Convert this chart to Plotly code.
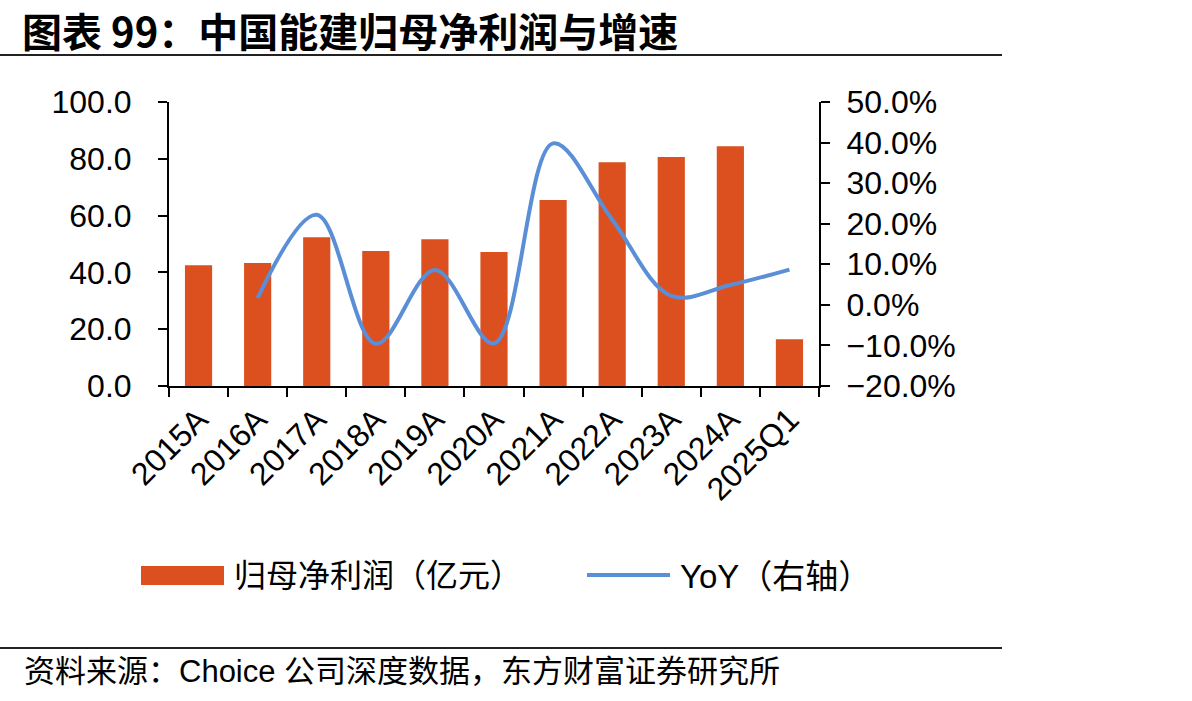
import plotly.graph_objects as go

categories = ['2015A', '2016A', '2017A', '2018A', '2019A', '2020A',
              '2021A', '2022A', '2023A', '2024A', '2025Q1']
net_profit = [42.5, 43.3, 52.4, 47.5, 51.7, 47.2, 65.5, 78.8, 80.6, 84.4, 16.5]
yoy = [None, 0.017, 0.222, -0.096, 0.086, -0.095, 0.398, 0.21, 0.022, 0.049, 0.087]

left_ticks = [0, 20, 40, 60, 80, 100]
right_ticks = [-0.2, -0.1, 0.0, 0.1, 0.2, 0.3, 0.4, 0.5]

W, H = 1192, 701
L, R, T, B = 169, 819, 102, 386  # plot area in px

def px(x):
    return (x - L) / (R - L)

def py(y):
    return (B - y) / (B - T)

BAR = '#DC5020'
LINE = '#5A8FD8'
LAT = 'Liberation Sans, Arial, Noto Sans CJK SC'

fig = go.Figure()
fig.add_trace(go.Bar(x=categories, y=net_profit, name='归母净利润（亿元）',
                     marker=dict(color=BAR, line=dict(width=0)), width=0.46,
                     yaxis='y'))
fig.add_trace(go.Scatter(x=categories, y=yoy, name='YoY（右轴）', mode='lines',
                         line=dict(color=LINE, width=4, shape='spline', smoothing=1.0),
                         yaxis='y2', connectgaps=False))

fig.update_layout(
    width=W, height=H,
    margin=dict(l=L, r=W - R, t=T, b=H - B),
    paper_bgcolor='white', plot_bgcolor='white',
    showlegend=False,
    font=dict(family=LAT, color='black'),
    xaxis=dict(type='category', showline=True, linecolor='black', linewidth=2,
               ticks='outside', tickson='boundaries', ticklen=9, tickwidth=1.5,
               tickcolor='black', tickangle=-45, tickfont=dict(size=32, family=LAT),
               showgrid=False, zeroline=False),
    yaxis=dict(range=[0, 100], tickvals=left_ticks, tickformat='.1f',
               showline=True, linecolor='black', linewidth=2,
               ticks='outside', ticklen=9, tickwidth=1.5, tickcolor='black',
               tickfont=dict(size=32, family=LAT), ticklabelstandoff=20,
               showgrid=False, zeroline=False),
    yaxis2=dict(range=[-0.2, 0.5], tickvals=right_ticks, tickformat='.1%',
                overlaying='y', side='right', anchor='x',
                showline=True, linecolor='black', linewidth=2,
                ticks='outside', ticklen=9, tickwidth=1.5, tickcolor='black',
                tickfont=dict(size=32, family=LAT), ticklabelstandoff=10,
                showgrid=False, zeroline=False),
)

shapes = []
annotations = []
# title and rules
annotations.append(dict(xref='paper', yref='paper', x=px(20), y=py(30),
                        xanchor='left', yanchor='middle', showarrow=False,
                        text='<b>图表 99：中国能建归母净利润与增速</b>',
                        font=dict(size=40, family='Noto Sans CJK SC, Liberation Sans', color='black')))
shapes.append(dict(type='line', xref='paper', yref='paper', x0=px(0), x1=px(1002),
                   y0=py(55), y1=py(55), line=dict(color='#222222', width=2)))
shapes.append(dict(type='line', xref='paper', yref='paper', x0=px(0), x1=px(1002),
                   y0=py(648), y1=py(648), line=dict(color='#222222', width=2)))
annotations.append(dict(xref='paper', yref='paper', x=px(22), y=py(671),
                        xanchor='left', yanchor='middle', showarrow=False,
                        text='资料来源：Choice 公司深度数据，东方财富证券研究所',
                        font=dict(size=31, family=LAT, color='black')))
# legend
shapes.append(dict(type='rect', xref='paper', yref='paper', x0=px(141), x1=px(224),
                   y0=py(585), y1=py(566), fillcolor=BAR, line=dict(width=0)))
annotations.append(dict(xref='paper', yref='paper', x=px(232), y=py(576),
                        xanchor='left', yanchor='middle', showarrow=False,
                        text='归母净利润（亿元）',
                        font=dict(size=32, family=LAT, color='black')))
shapes.append(dict(type='line', xref='paper', yref='paper', x0=px(587), x1=px(670),
                   y0=py(575), y1=py(575), line=dict(color=LINE, width=4)))
annotations.append(dict(xref='paper', yref='paper', x=px(678), y=py(576),
                        xanchor='left', yanchor='middle', showarrow=False,
                        text='YoY（右轴）',
                        font=dict(size=33, family=LAT, color='black')))

fig.update_layout(shapes=shapes, annotations=annotations)
fig.write_html('out.html')
